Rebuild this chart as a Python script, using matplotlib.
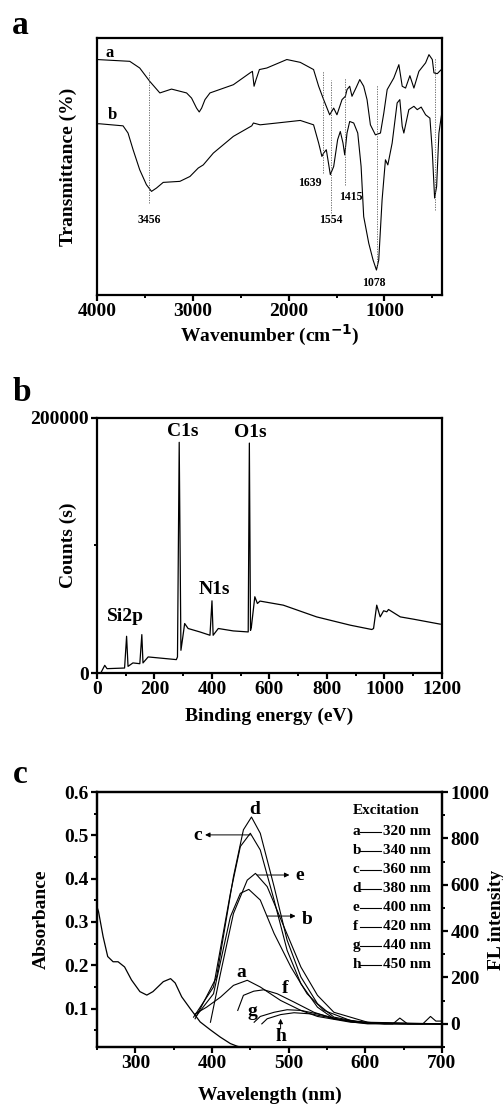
import matplotlib
matplotlib.use("Agg")
import matplotlib.pyplot as plt
from matplotlib.ticker import MultipleLocator

plt.rcParams['font.family'] = ['Liberation Serif', 'DejaVu Serif']
plt.rcParams['font.weight'] = 'bold'
plt.rcParams['axes.labelweight'] = 'bold'
plt.rcParams['axes.linewidth'] = 1.6
plt.rcParams['font.size'] = 14

# ---- panel a: FTIR ----
ftir_a_wn = [4000, 3658, 3554, 3449, 3344, 3222, 3065, 3013, 2961, 2933, 2908, 2873, 2821,
             2577, 2403, 2378, 2361, 2340, 2305, 2228, 2019, 1879, 1740, 1687, 1635, 1572,
             1530, 1496, 1443, 1408, 1391, 1363, 1339, 1293, 1258, 1217, 1182, 1147, 1095,
             1042, 1007, 972, 903, 850, 815, 780, 735, 693, 641, 571, 536, 501, 484, 449, 407]
ftir_a_t = [91.6, 90.9, 88.3, 83.1, 78.6, 80.1, 78.6, 76.6, 72.7, 71.2, 72.7, 76.0, 78.6,
            81.8, 86.4, 87.0, 81.2, 83.8, 87.7, 88.3, 91.6, 90.5, 87.7, 81.2, 76.0, 70.1,
            72.7, 70.1, 76.0, 77.3, 79.9, 81.2, 77.3, 80.9, 83.8, 81.2, 76.0, 66.2, 62.3,
            63.0, 70.8, 79.9, 84.4, 89.6, 81.2, 80.5, 85.3, 80.5, 87.0, 90.3, 93.5, 91.6,
            86.4, 86.1, 87.7]
ftir_b_wn = [4000, 3972, 3728, 3676, 3623, 3554, 3484, 3431, 3379, 3309, 3135, 3030, 2943,
             2891, 2786, 2577, 2385, 2368, 2298, 2123, 1879, 1740, 1687, 1653, 1635, 1607,
             1565, 1530, 1489, 1461, 1433, 1415, 1391, 1363, 1321, 1279, 1244, 1217, 1164,
             1119, 1084, 1060, 1025, 990, 965, 920, 868, 840, 815, 798, 746, 693, 658, 617,
             571, 526, 502, 477, 456, 432, 397]
ftir_b_t = [66.6, 66.6, 65.8, 63.0, 56.5, 48.7, 42.9, 40.3, 41.6, 43.8, 44.2, 46.1, 49.4,
            50.6, 55.2, 61.7, 65.8, 66.9, 66.2, 66.9, 67.9, 66.2, 59.1, 53.9, 55.2, 56.5,
            46.8, 50.0, 60.4, 63.6, 59.1, 54.5, 63.0, 67.5, 66.9, 63.0, 50.0, 30.5, 20.1,
            13.6, 9.7, 13.6, 37.0, 52.6, 50.6, 59.1, 74.7, 76.0, 65.6, 63.0, 72.1, 73.4,
            72.1, 73.1, 70.1, 68.8, 56.5, 37.7, 42.2, 63.0, 72.1]
# marked bands: position, dotted line top/bottom, label x, label y
band_pos = [3456, 1639, 1554, 1415, 1078, 470]
band_top = [86.6, 87.0, 83.8, 84.4, 81.8, 92.2]
band_bot = [35.7, 47.4, 31.8, 42.9, 11.0, 33.1]
band_lbl = ['3456', '1639', '1554', '1415', '1078', '']
band_lbl_x = [3456, 1775, 1565, 1350, 1110, 470]
band_lbl_y = [29.2, 43.5, 29.2, 38.1, 4.5, 0]

# ---- panel b: XPS survey ----
xps_be = [15, 27, 35, 96, 103, 108, 125, 149, 156, 160, 178, 276, 280, 286, 292, 297, 305,
          317, 358, 393, 400, 404, 422, 474, 526, 530, 534, 537, 549, 558, 567, 648, 764,
          881, 956, 962, 973, 985, 997, 1008, 1014, 1055, 1101, 1194]
xps_cnt = [800, 6000, 3400, 3900, 28800, 5200, 7900, 7300, 30100, 7900, 12600, 10500, 12600,
           180900, 17800, 25700, 38800, 34900, 32200, 29600, 56600, 29600, 34900, 33000,
           32200, 180300, 33400, 36100, 59800, 54500, 56400, 53200, 44000, 37500, 34100,
           34900, 53200, 44000, 48800, 48000, 49800, 44000, 42200, 38300]
xps_peaks = ['Si2p', 'C1s', 'N1s', 'O1s']
xps_peak_x = [100, 297, 408, 534]
xps_peak_y = [44000, 189000, 65800, 188700]

# ---- panel c: UV-vis absorbance + FL spectra ----
abs_wl = [250, 252, 258, 264, 271, 277.5, 286, 295, 306, 315, 323, 336.5, 346, 352, 360.5,
          371.5, 384.6, 397.7, 410.8, 424, 432.7, 437]
abs_val = [0.335, 0.324, 0.266, 0.220, 0.208, 0.208, 0.196, 0.166, 0.139, 0.131, 0.139,
           0.162, 0.169, 0.159, 0.127, 0.100, 0.069, 0.051, 0.034, 0.019, 0.013, 0.011]

fl_a_wl = [378, 393, 411, 428, 446, 463, 489.5, 516, 537.6, 581, 625, 636, 645, 655, 700]
fl_a = [43, 72, 115, 166, 188, 159, 101, 58, 32, 7, 0, 0, 25, 0, 0]
fl_b_wl = [380, 402, 424, 437, 448, 463, 481, 503, 524, 546, 581, 625, 675, 685, 692, 700]
fl_b = [36, 130, 462, 563, 580, 534, 390, 245, 130, 58, 14, 0, 0, 32, 12, 12]
fl_c_wl = [376, 402, 424, 437, 450, 463, 481, 498, 516, 537.6, 559, 603, 700]
fl_c = [29, 159, 563, 765, 822, 750, 534, 317, 173, 72, 22, 3, 0]
fl_d_wl = [378, 406, 428, 441, 451.5, 463, 481, 498, 516, 537.6, 559, 594, 647, 700]
fl_d = [22, 202, 635, 837, 892, 822, 592, 361, 202, 87, 29, 7, 0, 0]
fl_e_wl = [398, 411, 428, 446, 456.7, 472, 494, 516, 537.6, 559, 603, 700]
fl_e = [7, 216, 476, 620, 649, 592, 418, 245, 123, 50, 7, 0]
fl_f_wl = [433.6, 441, 454.5, 467.6, 485, 507, 533, 559, 603, 700]
fl_f = [58, 123, 141, 147, 130, 94, 50, 22, 3, 0]
fl_g_wl = [455, 463, 481, 498, 516, 542, 568, 603, 700]
fl_g = [7, 32, 50, 61, 58, 40, 17, 3, 0]
fl_h_wl = [465, 472, 489.5, 507, 529, 555, 585, 603, 700]
fl_h = [0, 22, 40, 48, 43, 26, 7, 0, 0]
fl_curves = [(fl_a_wl, fl_a), (fl_b_wl, fl_b), (fl_c_wl, fl_c), (fl_d_wl, fl_d),
             (fl_e_wl, fl_e), (fl_f_wl, fl_f), (fl_g_wl, fl_g), (fl_h_wl, fl_h)]
exc_letters = ['a', 'b', 'c', 'd', 'e', 'f', 'g', 'h']
exc_nm = ['320 nm', '340 nm', '360 nm', '380 nm', '400 nm', '420 nm', '440 nm', '450 nm']


def style_ticks(ax):
    ax.tick_params(which='major', direction='out', length=4, width=1.6, labelsize=14, pad=2)
    ax.tick_params(which='minor', direction='out', length=2.5, width=1.4)


fig = plt.figure(figsize=(5.03, 11.06), dpi=100)

# panel a
ax_a = fig.add_axes([0.1928, 0.7333, 0.6859, 0.2324])
ax_a.plot(ftir_a_wn, ftir_a_t, color='k', lw=0.8)
ax_a.plot(ftir_b_wn, ftir_b_t, color='k', lw=0.8)
ax_a.vlines(band_pos, band_bot, band_top, colors='0.35', linestyles=(0, (1.5, 1.5)), lw=0.6)
for lbl, x, y in zip(band_lbl, band_lbl_x, band_lbl_y):
    if lbl:
        ax_a.text(x, y, lbl, fontsize=8.5, ha='center', va='center')
ax_a.text(3867, 94.2, 'a', fontsize=12, ha='center', va='center')
ax_a.text(3840, 70.1, 'b', fontsize=12, ha='center', va='center')
ax_a.set_xlim(4000, 400)
ax_a.set_ylim(0, 100)
ax_a.set_yticks([])
ax_a.xaxis.set_major_locator(MultipleLocator(1000))
ax_a.xaxis.set_minor_locator(MultipleLocator(500))
style_ticks(ax_a)
ax_a.set_xlabel('Wavenumber (cm$^{\\mathbf{-1}}$)', fontsize=14)
ax_a.xaxis.set_label_coords(0.5, -0.11)
ax_a.set_ylabel('Transmittance (%)', fontsize=14)
ax_a.yaxis.set_label_coords(-0.058, 0.5)
fig.text(0.04, 0.977, 'a', fontsize=24, ha='center', va='center')

# panel b
ax_b = fig.add_axes([0.1928, 0.3915, 0.6859, 0.2306])
ax_b.plot(xps_be, xps_cnt, color='k', lw=0.9)
for lbl, x, y in zip(xps_peaks, xps_peak_x, xps_peak_y):
    ax_b.text(x, y, lbl, fontsize=14, ha='center', va='center')
ax_b.set_xlim(0, 1200)
ax_b.set_ylim(0, 200000)
ax_b.set_yticks([0, 200000])
ax_b.yaxis.set_minor_locator(MultipleLocator(100000))
ax_b.xaxis.set_major_locator(MultipleLocator(200))
ax_b.xaxis.set_minor_locator(MultipleLocator(100))
style_ticks(ax_b)
ax_b.set_xlabel('Binding energy (eV)', fontsize=14)
ax_b.xaxis.set_label_coords(0.5, -0.135)
ax_b.set_ylabel('Counts (s)', fontsize=14)
ax_b.yaxis.set_label_coords(-0.058, 0.5)
fig.text(0.044, 0.645, 'b', fontsize=24, ha='center', va='center')

# panel c
ax_c = fig.add_axes([0.1928, 0.0533, 0.6859, 0.2306])
ax_c.plot(abs_wl, abs_val, color='k', lw=0.9)
ax_c.set_xlim(250, 700)
ax_c.set_ylim(0.011, 0.6)
ax_c.yaxis.set_major_locator(MultipleLocator(0.1))
ax_c.yaxis.set_minor_locator(MultipleLocator(0.05))
ax_c.xaxis.set_major_locator(MultipleLocator(100))
ax_c.xaxis.set_minor_locator(MultipleLocator(50))
style_ticks(ax_c)
ax_c.set_xlabel('Wavelength (nm)', fontsize=14)
ax_c.xaxis.set_label_coords(0.5, -0.155)
ax_c.set_ylabel('Absorbance', fontsize=14)
ax_c.yaxis.set_label_coords(-0.136, 0.5)

ax_c2 = ax_c.twinx()
for wl, fl in fl_curves:
    ax_c2.plot(wl, fl, color='k', lw=0.8)
ax_c2.set_ylim(-100, 1000)
ax_c2.yaxis.set_major_locator(MultipleLocator(200))
ax_c2.yaxis.set_minor_locator(MultipleLocator(100))
style_ticks(ax_c2)
ax_c2.set_ylabel('FL intensity', fontsize=14)
ax_c2.yaxis.set_label_coords(1.133, 0.5)

arrow = dict(arrowstyle='-|>', lw=0.7, color='k', mutation_scale=7, shrinkA=0, shrinkB=0)
ax_c2.annotate('', xy=(391, 815), xytext=(450, 815), arrowprops=arrow)
ax_c2.annotate('', xy=(501, 642), xytext=(459, 642), arrowprops=arrow)
ax_c2.annotate('', xy=(509, 465), xytext=(472, 465), arrowprops=arrow)
ax_c2.annotate('', xy=(489.5, 22), xytext=(489.5, -22), arrowprops=arrow)
curve_tags = [('d', 456, 923), ('c', 382, 811), ('e', 514, 638), ('b', 523.6, 452),
              ('a', 438, 221), ('f', 495, 154), ('g', 453, 55), ('h', 489.5, -55)]
for t, x, y in curve_tags:
    ax_c2.text(x, y, t, fontsize=14, ha='center', va='center')

# excitation key
ax_c.text(0.742, 0.929, 'Excitation', transform=ax_c.transAxes, fontsize=11, ha='left', va='center')
for i, (lt, nm) in enumerate(zip(exc_letters, exc_nm)):
    yy = 0.844 - i * 0.0745
    ax_c.text(0.741, yy, lt, transform=ax_c.transAxes, fontsize=11, ha='left', va='center')
    ax_c.plot([0.762, 0.824], [yy, yy], transform=ax_c.transAxes, color='k', lw=0.8)
    ax_c.text(0.828, yy, nm, transform=ax_c.transAxes, fontsize=11, ha='left', va='center')
fig.text(0.04, 0.30, 'c', fontsize=24, ha='center', va='center')

plt.savefig('out.png', dpi=100)
